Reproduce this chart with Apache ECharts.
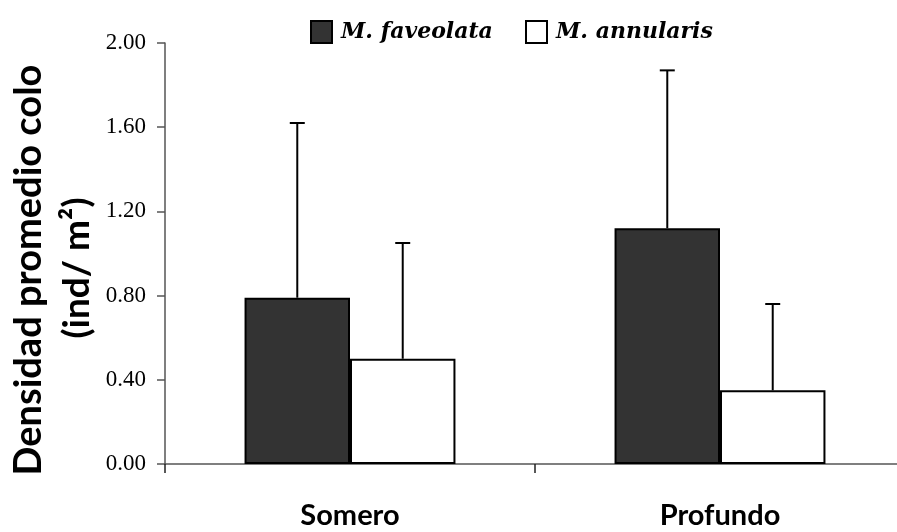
<!DOCTYPE html>
<html>
<head>
<meta charset="utf-8">
<script src="https://cdn.jsdelivr.net/npm/echarts@6/dist/echarts.min.js"></script>
<style>
  html, body { margin: 0; padding: 0; background: #fff; overflow: hidden; }
  /* the value axis runs a little past the right window edge */
  #chart { width: 912px; height: 532px; }
</style>
</head>
<body>
<div id="chart"></div>
<script>
// Sites and mean colony density (ind/m²) per species, with the upper SD whisker
const sites = ['Somero', 'Profundo'];
const favMean = [0.79, 1.12];
const favErr = [0.83, 0.75];
const annMean = [0.50, 0.35];
const annErr = [0.55, 0.41];
const yTicks = { min: 0, max: 2, step: 0.4 };
const speciesNames = ['M. faveolata', 'M. annularis'];

const CAT_GAP = 0.43; // share of a category left empty around each pair of bars

const chart = echarts.init(document.getElementById('chart'));

// Upper error whisker centred on the bar of series `slot` (0 = left, 1 = right)
function whisker(slot, errs) {
  return function (params, api) {
    const i = api.value(0);
    const mean = api.value(1);
    const catW = api.size([1, 0])[0];
    const groupW = catW * (1 - CAT_GAP);
    const barW = groupW / 2;
    const base = api.coord([i, mean]);
    const top = api.coord([i, mean + errs[i]]);
    const x = base[0] - groupW / 2 + barW * (slot + 0.5);
    const cap = 7.5;
    const st = { stroke: '#000', lineWidth: 2 };
    return {
      type: 'group',
      children: [
        { type: 'line', shape: { x1: x, y1: base[1], x2: x, y2: top[1] }, style: st },
        { type: 'line', shape: { x1: x - cap, y1: top[1], x2: x + cap, y2: top[1] }, style: st }
      ]
    };
  };
}

const legendText = {
  fontFamily: 'DejaVu Serif',
  fontStyle: 'italic',
  fontWeight: 'bold',
  fontSize: 22,
  color: '#000',
  padding: [0, 0, 0, 4]
};

const option = {
  animation: false,
  backgroundColor: '#fff',
  legend: [
    {
      data: [speciesNames[0]],
      left: 305, top: 15,
      itemWidth: 21, itemHeight: 22,
      icon: 'rect',
      selectedMode: false,
      textStyle: legendText
    },
    {
      data: [speciesNames[1]],
      left: 520, top: 15,
      itemWidth: 21, itemHeight: 22,
      icon: 'rect',
      selectedMode: false,
      textStyle: legendText
    }
  ],
  grid: { left: 165, top: 43, width: 740, height: 421, containLabel: false },
  xAxis: {
    type: 'category',
    data: sites,
    axisLine: { lineStyle: { color: '#555', width: 1.5 } },
    axisTick: { show: true, length: 9, lineStyle: { color: '#222', width: 1.5 } },
    axisLabel: {
      margin: 37,
      fontFamily: 'Lato',
      fontWeight: 'bold',
      fontSize: 29,
      color: '#000'
    },
    splitLine: { show: false }
  },
  yAxis: {
    type: 'value',
    min: yTicks.min,
    max: yTicks.max,
    interval: yTicks.step,
    axisLine: { show: true, lineStyle: { color: '#555', width: 1.5 } },
    axisTick: { show: true, length: 8, lineStyle: { color: '#555', width: 1.5 } },
    axisLabel: {
      margin: 19,
      fontFamily: 'Liberation Serif',
      fontSize: 23,
      color: '#000',
      formatter: v => v.toFixed(2)
    },
    splitLine: { show: false }
  },
  graphic: [
    {
      type: 'text',
      x: 29, y: 270,
      rotation: Math.PI / 2,
      style: {
        text: 'Densidad promedio colo',
        fontFamily: 'Lato', fontWeight: 'bold', fontSize: 38,
        fill: '#000', align: 'center', verticalAlign: 'middle'
      }
    },
    {
      type: 'text',
      x: 77, y: 268,
      rotation: Math.PI / 2,
      style: {
        text: '(ind/ m²)',
        fontFamily: 'Lato', fontWeight: 'bold', fontSize: 37,
        fill: '#000', align: 'center', verticalAlign: 'middle'
      }
    }
  ],
  series: [
    {
      name: speciesNames[0],
      type: 'bar',
      data: favMean,
      barGap: '0%',
      barCategoryGap: (CAT_GAP * 100) + '%',
      itemStyle: { color: '#333333', borderColor: '#000', borderWidth: 2 }
    },
    {
      name: speciesNames[1],
      type: 'bar',
      data: annMean,
      barGap: '0%',
      barCategoryGap: (CAT_GAP * 100) + '%',
      itemStyle: { color: '#ffffff', borderColor: '#000', borderWidth: 2 }
    },
    {
      type: 'custom',
      renderItem: whisker(0, favErr),
      data: favMean.map((v, i) => [i, v]),
      encode: { x: 0, y: 1 },
      z: 3,
      silent: true
    },
    {
      type: 'custom',
      renderItem: whisker(1, annErr),
      data: annMean.map((v, i) => [i, v]),
      encode: { x: 0, y: 1 },
      z: 3,
      silent: true
    }
  ]
};

chart.setOption(option);
</script>
</body>
</html>
